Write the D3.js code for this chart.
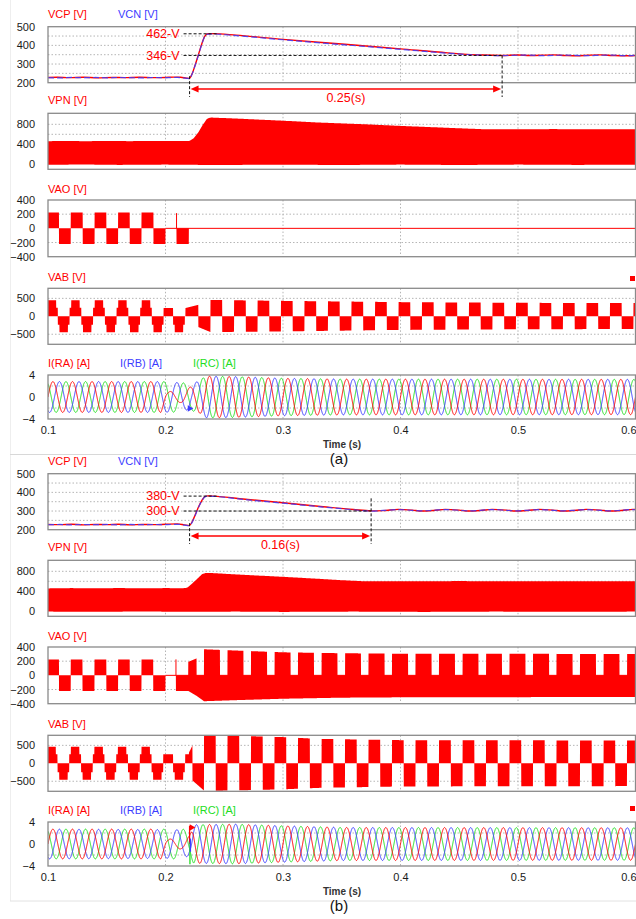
<!DOCTYPE html>
<html><head><meta charset="utf-8">
<script src="https://cdn.jsdelivr.net/npm/d3@7"></script>
<style>body{margin:0;background:#fff;} svg{display:block;} text{font-family:"Liberation Sans",Arial,sans-serif;}</style>
</head><body><svg id="c" width="636" height="919"></svg>
<script>
// ================= DATA =================
const timeTicks = [0.1, 0.2, 0.3, 0.4, 0.5, 0.6];
const timeGrid = [0.2, 0.3, 0.4, 0.5];

// capacitor voltages (a)
const vcpA = [[0.1,228],[0.108,229],[0.118,227],[0.13,229],[0.142,226],[0.155,228],[0.165,227],[0.178,229],[0.19,227],[0.2,228],[0.207,230],[0.213,229],[0.218,224],[0.2203,223],[0.2225,245],[0.225,290],[0.228,350],[0.231,410],[0.2335,450],[0.236,462],[0.24,463],[0.26,455],[0.3,432],[0.35,407],[0.4,381],[0.44,360],[0.47,348],[0.486,346],[0.5,348],[0.51,346],[0.52,347],[0.53,349],[0.54,346],[0.55,344],[0.56,347],[0.57,349],[0.58,346],[0.59,344],[0.6,346]];
const vcnA = [[0.1,227],[0.11,226],[0.12,228],[0.13,227],[0.14,228],[0.15,226],[0.16,228],[0.17,227],[0.18,226],[0.19,228],[0.2,227],[0.21,228],[0.215,226],[0.2203,222],[0.2225,244],[0.225,288],[0.228,347],[0.231,408],[0.2335,449],[0.236,460],[0.24,461],[0.26,452],[0.3,430],[0.35,404],[0.4,379],[0.44,358],[0.47,347],[0.486,345],[0.5,347],[0.51,348],[0.52,345],[0.53,346],[0.54,348],[0.55,346],[0.56,345],[0.57,347],[0.58,348],[0.59,345],[0.6,347]];
// capacitor voltages (b)
const vcpB = [[0.1,228],[0.11,227],[0.12,229],[0.13,226],[0.14,228],[0.15,227],[0.16,229],[0.17,226],[0.18,228],[0.19,227],[0.2,229],[0.21,231],[0.216,226],[0.2203,222],[0.2225,240],[0.225,275],[0.228,320],[0.231,357],[0.2335,377],[0.236,381],[0.24,380],[0.27,362],[0.3,344],[0.33,326],[0.36,308],[0.375,301],[0.385,302],[0.398,309],[0.41,305],[0.418,300],[0.428,303],[0.438,309],[0.45,305],[0.458,300],[0.468,303],[0.478,309],[0.49,305],[0.498,300],[0.508,303],[0.518,309],[0.53,305],[0.538,300],[0.548,303],[0.558,309],[0.57,305],[0.578,300],[0.588,303],[0.598,309],[0.6,308]];
const vcnB = [[0.1,227],[0.11,228],[0.12,226],[0.13,228],[0.14,227],[0.15,228],[0.16,226],[0.17,228],[0.18,227],[0.19,228],[0.2,227],[0.21,229],[0.216,225],[0.2203,221],[0.2225,238],[0.225,273],[0.228,318],[0.231,355],[0.2335,376],[0.236,380],[0.24,379],[0.27,360],[0.3,342],[0.33,324],[0.36,307],[0.375,300],[0.385,303],[0.398,308],[0.41,304],[0.418,301],[0.428,304],[0.438,308],[0.45,304],[0.458,301],[0.468,304],[0.478,308],[0.49,304],[0.498,301],[0.508,304],[0.518,308],[0.53,304],[0.538,301],[0.548,304],[0.558,308],[0.57,304],[0.578,301],[0.588,304],[0.598,308],[0.6,307]];

// DC link VPN envelopes
const vpnTopA = [[0.1,462],[0.115,468],[0.13,462],[0.15,466],[0.17,463],[0.19,467],[0.21,468],[0.2205,466],[0.224,520],[0.228,640],[0.232,800],[0.2355,915],[0.239,935],[0.26,915],[0.3,872],[0.33,836],[0.37,800],[0.4,768],[0.44,730],[0.47,702],[0.5,700],[0.53,704],[0.56,700],[0.6,702]];
const vpnBotA = [[0.1,-10],[0.13,-4],[0.16,-12],[0.2,-6],[0.24,-14],[0.3,-8],[0.35,-14],[0.4,-6],[0.45,-14],[0.5,-6],[0.55,-12],[0.6,-8]];
const vpnTopB = [[0.1,458],[0.12,464],[0.14,459],[0.16,465],[0.18,460],[0.2,464],[0.215,462],[0.2185,470],[0.222,540],[0.227,650],[0.231,740],[0.234,766],[0.24,764],[0.27,725],[0.3,690],[0.33,650],[0.35,622],[0.368,602],[0.4,600],[0.45,604],[0.5,600],[0.55,603],[0.6,600]];
const vpnBotB = [[0.1,-6],[0.14,-10],[0.18,-4],[0.22,-10],[0.26,-6],[0.3,-12],[0.36,-6],[0.42,-12],[0.48,-6],[0.54,-10],[0.6,-6]];

// pole voltage VAO: pre-fault switching edges (alternating +/-), levels
const vaoEdgesA = [0.1,0.1094,0.1194,0.1296,0.1397,0.1497,0.1597,0.1696,0.1796,0.1898,0.2];
const vaoEdgesB = [0.1,0.1094,0.1194,0.1294,0.1396,0.1497,0.1597,0.1696,0.1796,0.1896,0.2];
const vaoLevels = [225, -220];
const vaoFaultBlockA = [0.2094, 0.2199, -220];
const vaoFaultBlockB = [0.2089, 0.2194, -220];
const vaoSpikeA = [0.2094, 215];
const vaoSpikeB = [0.2089, 225];
// (b) after reconfiguration
const vaoRampB = [[0.2194,190],[0.2265,240]];
const vaoRampEndB = 0.2265;
const vaoBlocksStartB = 0.2328, vaoPeriodB = 0.02, vaoBlockWidthB = 0.0136;
const vaoTopB = [[0.2328,368],[0.26,350],[0.3,325],[0.35,312],[0.4,305],[0.6,302]];
const vaoBotB = [[0.2194,-220],[0.2265,-290],[0.2328,-365],[0.26,-350],[0.3,-330],[0.35,-315],[0.4,-310],[0.6,-305]];

// line voltage VAB: stepped half-waves (center times), template
const vabPosCentersA = [0.1034,0.1234,0.1434,0.1634,0.1834];
const vabNegCentersA = [0.1134,0.1334,0.1534,0.1734,0.1934,0.2115];
const vabPosCentersB = [0.1031,0.1231,0.1431,0.1631,0.1831];
const vabNegCentersB = [0.1131,0.1331,0.1531,0.1731,0.1931,0.2115];
const vabStepA = {topHalf:0.0036, half:0.005, top:445, shoulder:235};
const vabStepB = {topHalf:0.0036, half:0.005, top:460, shoulder:250};
const vabTransA = [[0.1984,0.2065,230,230],[0.2170,0.2280,230,320],[0.2280,0.2383,-300,-440]];
const vabTransB = [[0.1981,0.2065,250,250],[0.2168,0.2200,250,250],[0.2200,0.2230,300,500],[0.2230,0.2328,-480,-760]];
const vabSquareStartA = 0.2383, vabSquareStartB = 0.2328, vabHalfPeriod = 0.01;
const vabPosAmpA = [[0.238,455],[0.3,430],[0.4,395],[0.5,375],[0.6,370]];
const vabNegAmpA = [[0.238,-440],[0.3,-420],[0.4,-380],[0.5,-360],[0.6,-355]];
const vabPosAmpB = [[0.233,785],[0.26,765],[0.3,730],[0.33,680],[0.4,645],[0.6,635]];
const vabNegAmpB = [[0.233,-770],[0.26,-755],[0.3,-725],[0.33,-685],[0.4,-645],[0.6,-635]];

// phase currents: frequency, phase offsets (deg), amplitude envelopes
const currentFreq = 60;
const phaseDeg = {RA:0, RB:-120, RC:120};
const iAmpA = {
  RA: [[0.1,2.8],[0.196,2.8],[0.202,1.0],[0.213,1.0],[0.222,1.9],[0.235,3.8],[0.26,3.7],[0.3,3.4],[0.35,3.25],[0.6,3.2]],
  RB: [[0.1,2.8],[0.2,2.8],[0.212,2.6],[0.222,2.2],[0.235,3.8],[0.26,3.7],[0.3,3.4],[0.35,3.25],[0.6,3.2]],
  RC: [[0.1,2.8],[0.205,2.8],[0.222,2.4],[0.235,3.8],[0.26,3.7],[0.3,3.4],[0.35,3.25],[0.6,3.2]]
};
const iAmpB = {
  RA: [[0.1,2.7],[0.196,2.7],[0.202,0.9],[0.214,0.9],[0.2205,1.5],[0.224,3.5],[0.26,3.6],[0.3,3.3],[0.35,3.0],[0.6,2.95]],
  RB: [[0.1,2.7],[0.21,2.6],[0.2205,2.2],[0.224,3.5],[0.26,3.6],[0.3,3.3],[0.35,3.0],[0.6,2.95]],
  RC: [[0.1,2.7],[0.215,2.7],[0.2205,2.2],[0.224,3.5],[0.26,3.6],[0.3,3.3],[0.35,3.0],[0.6,2.95]]
};
const iSpikesB = [[0.2205,0,3.3,'RA'],[0.2208,-3.7,0.3,'RC'],[0.2212,-1.4,1.0,'RB']];

// annotations
const annA = {peak:462, end:346, tStart:0.2205, tEnd:0.4865, peakLabel:'462-V', endLabel:'346-V', dur:'0.25(s)'};
const annB = {peak:380, end:300, tStart:0.2205, tEnd:0.3750, peakLabel:'380-V', endLabel:'300-V', dur:'0.16(s)'};

// ================= DRAW =================
const RED = '#ff0000', BLUE = '#3c3cff', GREEN = '#22dd22';
const svg = d3.select('#c');
const X = d3.scaleLinear().domain([0.1, 0.6]).range([48, 635.5]);
const DT = 0.0001;
const times = d3.range(0.1, 0.6 + 1e-9, DT);

function interp(arr, t) {
  if (t <= arr[0][0]) return arr[0][1];
  for (let i = 1; i < arr.length; i++) {
    if (t <= arr[i][0]) {
      const [t0, v0] = arr[i-1], [t1, v1] = arr[i];
      return v0 + (v1 - v0) * (t - t0) / (t1 - t0);
    }
  }
  return arr[arr.length-1][1];
}

const rows = [
  {key:'vc', top:26.7, bot:82.7, domain:[200,500], ticks:[200,300,400,500], grid:[250,300,350,400,450], labelY:14},
  {key:'vpn', top:113.3, bot:169.3, domain:[-100,1020], ticks:[0,400,800], grid:[200,400,600,800], labelY:100},
  {key:'vao', top:200, bot:256.7, domain:[-400,400], ticks:[-400,-200,0,200,400], grid:[-200,200], labelY:189},
  {key:'vab', top:288.3, bot:344.3, domain:[-780,780], ticks:[-500,0,500], grid:[-500,500], labelY:276.7},
  {key:'i', top:375, bot:419, domain:[-4,4], ticks:[-4,0,4], grid:[-2,2], labelY:363.3}
];
const rowLabels = {
  vc: [['VCP [V]',48,RED],['VCN [V]',118,BLUE]],
  vpn: [['VPN [V]',48,RED]],
  vao: [['VAO [V]',48,RED]],
  vab: [['VAB [V]',48,RED]],
  i: [['I(RA) [A]',48,RED],['I(RB) [A]',120,BLUE],['I(RC) [A]',193,GREEN]]
};

function vaoPre(edges, t) {
  for (let i = 0; i < edges.length - 1; i++) {
    if (t >= edges[i] && t < edges[i+1]) return vaoLevels[i % 2];
  }
  return null;
}
function vabStep(posC, negC, st, t) {
  for (const c of posC) { const d = Math.abs(t - c); if (d < st.topHalf) return st.top; if (d < st.half) return st.shoulder; }
  for (const c of negC) { const d = Math.abs(t - c); if (d < st.topHalf) return -st.top; if (d < st.half) return -st.shoulder; }
  return null;
}
function vabTrans(tr, t) {
  for (const [t0,t1,v0,v1] of tr) if (t >= t0 && t < t1) return v0 + (v1-v0)*(t-t0)/(t1-t0);
  return null;
}

const G = {
  a: {vcp:vcpA, vcn:vcnA, vpnTop:vpnTopA, vpnBot:vpnBotA, vaoEdges:vaoEdgesA, vaoFault:vaoFaultBlockA, vaoSpike:vaoSpikeA,
      vabPos:vabPosCentersA, vabNeg:vabNegCentersA, vabSt:vabStepA, vabTr:vabTransA, vabSq:vabSquareStartA, vabPA:vabPosAmpA, vabNA:vabNegAmpA,
      iAmp:iAmpA, ann:annA, dy:0, tag:'(a)'},
  b: {vcp:vcpB, vcn:vcnB, vpnTop:vpnTopB, vpnBot:vpnBotB, vaoEdges:vaoEdgesB, vaoFault:vaoFaultBlockB, vaoSpike:vaoSpikeB,
      vabPos:vabPosCentersB, vabNeg:vabNegCentersB, vabSt:vabStepB, vabTr:vabTransB, vabSq:vabSquareStartB, vabPA:vabPosAmpB, vabNA:vabNegAmpB,
      iAmp:iAmpB, ann:annB, dy:447, tag:'(b)'}
};

function vaoFn(D, isB, t) {
  const p = vaoPre(D.vaoEdges, t);
  if (t < 0.2 && p !== null) return [Math.min(0,p), Math.max(0,p)];
  const [f0,f1,fl] = D.vaoFault;
  if (t >= f0 && t < f1) return [fl, 0];
  if (isB && t >= f1) {
    const bot = interp(vaoBotB, t);
    let top;
    if (t < vaoRampEndB) top = interp(vaoRampB, t);
    else if (t < vaoBlocksStartB) top = 0;
    else { const k = (t - vaoBlocksStartB) % vaoPeriodB; top = k < vaoBlockWidthB ? interp(vaoTopB, t) : 0; }
    return [bot, top];
  }
  return [0, 0];
}
function vabFn(D, t) {
  let v = vabStep(D.vabPos, D.vabNeg, D.vabSt, t);
  if (v === null) v = vabTrans(D.vabTr, t);
  if (v === null && t >= D.vabSq) {
    const k = Math.floor((t - D.vabSq) / vabHalfPeriod);
    v = (k % 2 === 0) ? interp(D.vabPA, t) : interp(D.vabNA, t);
  }
  if (v === null) v = 0;
  return [Math.min(0,v), Math.max(0,v)];
}

// background frame lines
svg.append('line').attr('x1',10.5).attr('x2',10.5).attr('y1',0).attr('y2',901).attr('stroke','#eeeeee');
svg.append('line').attr('x1',10).attr('x2',636).attr('y1',454.5).attr('y2',454.5).attr('stroke','#d8d8d8');
svg.append('line').attr('x1',10).attr('x2',636).attr('y1',901).attr('y2',901).attr('stroke','#e2e2e2');

Object.entries(G).forEach(([gk, D]) => {
  const isB = gk === 'b';
  const g = svg.append('g').attr('transform', `translate(0,${D.dy})`);
  const Y = {};
  rows.forEach(r => {
    const y = d3.scaleLinear().domain(r.domain).range([r.bot, r.top]);
    Y[r.key] = y;
    const clipId = `clip-${gk}-${r.key}`;
    g.append('clipPath').attr('id', clipId).append('rect')
      .attr('x', X(0.1)).attr('y', r.top).attr('width', X(0.6)-X(0.1)).attr('height', r.bot - r.top);
    // grid
    const grid = g.append('g');
    r.grid.forEach(v => grid.append('line').attr('x1',X(0.1)).attr('x2',X(0.6)).attr('y1',y(v)).attr('y2',y(v))
      .attr('stroke','#b5b5b5').attr('stroke-dasharray','1.5,2'));
    timeGrid.forEach(t => grid.append('line').attr('x1',X(t)).attr('x2',X(t)).attr('y1',r.top).attr('y2',r.bot)
      .attr('stroke','#b5b5b5').attr('stroke-dasharray','1.5,2'));
    // y axis labels
    const ax = g.append('g').attr('transform', `translate(${X(0.1)},0)`)
      .call(d3.axisLeft(y).tickValues(r.ticks).tickSize(0).tickPadding(13).tickFormat(d3.format('d')));
    ax.select('.domain').remove();
    ax.selectAll('text').attr('font-size', 11).attr('fill', '#1a1a1a').attr('font-family','"Liberation Sans",Arial,sans-serif');
    // row labels
    rowLabels[r.key].forEach(([txt, x, col]) => g.append('text').attr('x', x).attr('y', r.labelY).attr('dy','0.35em')
      .attr('font-size', 11).attr('fill', col).text(txt));
    // data
    const dg = g.append('g').attr('clip-path', `url(#${clipId})`);
    if (r.key === 'vc') {
      const line = d3.line().x(d => X(d[0])).y(d => y(d[1])).curve(d3.curveMonotoneX);
      dg.append('path').attr('d', line(D.vcp)).attr('fill','none').attr('stroke',RED).attr('stroke-width',1.4);
      dg.append('path').attr('d', line(D.vcn)).attr('fill','none').attr('stroke',BLUE).attr('stroke-width',1.2)
        .attr('stroke-dasharray', '6,3').attr('opacity',0.85);
    } else if (r.key === 'vpn') {
      const area = d3.area().x(t => X(t)).y0(t => y(interp(D.vpnBot, t))).y1(t => y(interp(D.vpnTop, t)));
      dg.append('path').attr('d', area(d3.range(0.1, 0.6+1e-9, 0.001))).attr('fill', RED);
    } else if (r.key === 'vao') {
      dg.append('line').attr('x1',X(0.2)).attr('x2',X(0.6)).attr('y1',y(0)).attr('y2',y(0)).attr('stroke',RED).attr('stroke-width',1);
      const pts = times.map(t => [t, vaoFn(D, isB, t)]);
      const area = d3.area().x(d => X(d[0])).y0(d => y(d[1][0])).y1(d => y(d[1][1]));
      dg.append('path').attr('d', area(pts)).attr('fill', RED);
      dg.append('line').attr('x1',X(D.vaoSpike[0])).attr('x2',X(D.vaoSpike[0])).attr('y1',y(0)).attr('y2',y(D.vaoSpike[1]))
        .attr('stroke',RED).attr('stroke-width',1);
    } else if (r.key === 'vab') {
      const pts = times.map(t => [t, vabFn(D, t)]);
      const area = d3.area().x(d => X(d[0])).y0(d => y(d[1][0])).y1(d => y(d[1][1]));
      dg.append('path').attr('d', area(pts)).attr('fill', RED);
    } else if (r.key === 'i') {
      const cols = {RA:RED, RB:BLUE, RC:GREEN};
      ['RC','RB','RA'].forEach(ph => {
        const pts = times.map(t => [t, interp(D.iAmp[ph], t) * Math.sin(2*Math.PI*currentFreq*(t-0.1) + phaseDeg[ph]*Math.PI/180)]);
        dg.append('path').attr('d', d3.line().x(d => X(d[0])).y(d => y(d[1]))(pts))
          .attr('fill','none').attr('stroke', cols[ph]).attr('stroke-width', 1);
      });
      if (isB) {
        iSpikesB.forEach(([t, v0, v1, ph]) => dg.append('line').attr('x1',X(t)).attr('x2',X(t)).attr('y1',y(v0)).attr('y2',y(v1))
          .attr('stroke', cols[ph]).attr('stroke-width', 1.3));
        dg.append('path').attr('d', d3.symbol(d3.symbolTriangle, 18)()).attr('transform', `translate(${X(0.2205)+2},${y(3.0)}) rotate(90)`).attr('fill', RED);
      } else {
        dg.append('path').attr('d', d3.symbol(d3.symbolTriangle, 18)()).attr('transform', `translate(${X(0.2205)},${y(-2.1)}) rotate(90)`).attr('fill', BLUE);
      }
    }
    // box
    g.append('rect').attr('x', X(0.1)).attr('y', r.top).attr('width', X(0.6)-X(0.1)).attr('height', r.bot - r.top)
      .attr('fill','none').attr('stroke','#8a8a8a').attr('stroke-width',1.3);
  });

  // time axis
  const iRow = rows[rows.length-1];
  const xa = g.append('g').attr('transform', `translate(0,${iRow.bot})`)
    .call(d3.axisBottom(X).tickValues(timeTicks).tickSize(0).tickPadding(7).tickFormat(d3.format('.1f')));
  xa.select('.domain').remove();
  xa.selectAll('text').attr('font-size', 11).attr('fill','#1a1a1a').attr('font-family','"Liberation Sans",Arial,sans-serif');
  // keep the last tick label inside the picture
  xa.selectAll('.tick').filter(d => d === 0.6).select('text').attr('text-anchor','end').attr('dx', 0.5);
  g.append('text').attr('x', 342).attr('y', 444.3).attr('dy','0.35em').attr('text-anchor','middle')
    .attr('font-size', 10).attr('font-weight','bold').attr('fill','#333').text('Time (s)');
  g.append('text').attr('x', 339).attr('y', 459).attr('dy','0.35em').attr('text-anchor','middle')
    .attr('font-size', 15).attr('fill','#111').text(D.tag);

  // annotations on VC panel
  const yv = Y.vc, A = D.ann;
  const xs = X(A.tStart), xe = X(A.tEnd);
  const dash = '3,2';
  g.append('line').attr('x1', xs - 6).attr('x2', xs + 29).attr('y1', yv(A.peak)).attr('y2', yv(A.peak))
    .attr('stroke','#111').attr('stroke-dasharray',dash).attr('stroke-width',1);
  g.append('line').attr('x1', xs - 6).attr('x2', xe).attr('y1', yv(A.end)).attr('y2', yv(A.end))
    .attr('stroke','#111').attr('stroke-dasharray',dash).attr('stroke-width',1);
  g.append('line').attr('x1', xs).attr('x2', xs).attr('y1', yv(235)).attr('y2', 97)
    .attr('stroke','#111').attr('stroke-dasharray',dash).attr('stroke-width',1);
  g.append('line').attr('x1', xe).attr('x2', xe).attr('y1', isB ? yv(368) : yv(A.end)).attr('y2', 97)
    .attr('stroke','#111').attr('stroke-dasharray',dash).attr('stroke-width',1);
  g.append('text').attr('x', xs - 10).attr('y', yv(A.peak)).attr('dy','0.35em').attr('text-anchor','end')
    .attr('font-size',12.5).attr('fill',RED).text(A.peakLabel);
  g.append('text').attr('x', xs - 10).attr('y', yv(A.end)).attr('dy','0.35em').attr('text-anchor','end')
    .attr('font-size',12.5).attr('fill',RED).text(A.endLabel);
  const ay = 89;
  g.append('line').attr('x1', xs + 6).attr('x2', xe - 6).attr('y1', ay).attr('y2', ay).attr('stroke', RED).attr('stroke-width', 1.3);
  g.append('path').attr('d', `M${xs+1},${ay} L${xs+9},${ay-3.5} L${xs+9},${ay+3.5} Z`).attr('fill', RED);
  g.append('path').attr('d', `M${xe-1},${ay} L${xe-9},${ay-3.5} L${xe-9},${ay+3.5} Z`).attr('fill', RED);
  g.append('text').attr('x', (xs + xe) / 2).attr('y', 97.5).attr('dy','0.35em').attr('text-anchor','middle')
    .attr('font-size',12.5).attr('fill',RED).text(A.dur);
});

// small red markers
svg.append('rect').attr('x',630).attr('y',276).attr('width',5).attr('height',5).attr('fill',RED);
svg.append('rect').attr('x',630).attr('y',806).attr('width',5).attr('height',5).attr('fill',RED);
</script></body></html>
